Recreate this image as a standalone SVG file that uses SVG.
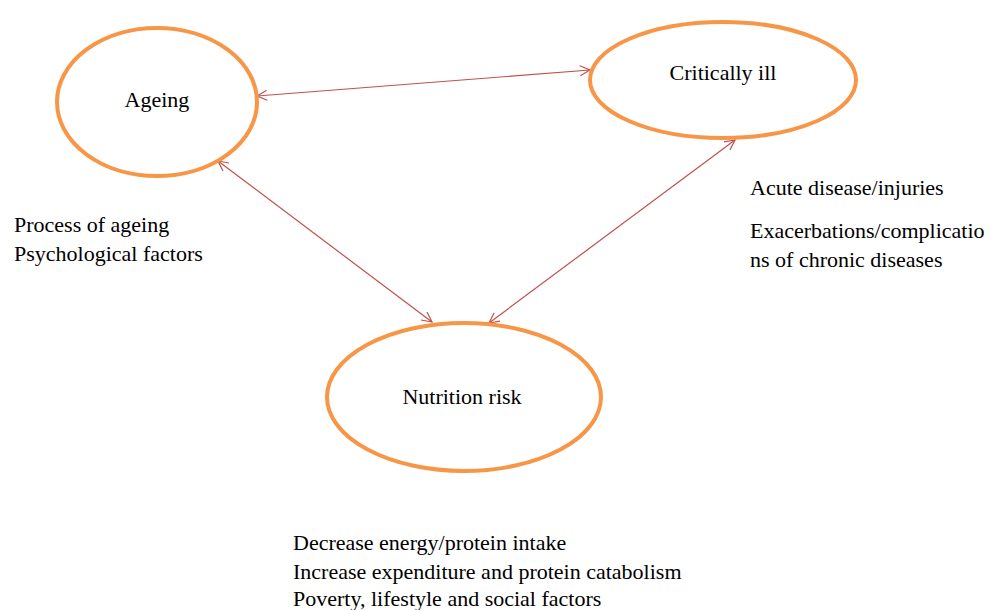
<svg xmlns="http://www.w3.org/2000/svg" width="990" height="610" viewBox="0 0 990 610">
<defs>
<marker id="ah" viewBox="0 0 12 12" refX="11" refY="6" markerWidth="12" markerHeight="12" markerUnits="userSpaceOnUse" orient="auto-start-reverse">
<path d="M1,1 L11,6 L1,11" fill="none" stroke="#c0504d" stroke-width="1.2"/>
</marker>
</defs>
<style>
.node{fill:#fff;stroke:#f79646;stroke-width:4}
.lbl{font-family:"Liberation Serif","Times New Roman",serif;font-size:22px;fill:#000}
.conn{stroke:#c0504d;stroke-width:1.2;fill:none;marker-start:url(#ah);marker-end:url(#ah)}
</style>
<rect width="990" height="610" fill="#fff"/>
<g id="connectors">
<line class="conn" x1="257" y1="96" x2="590" y2="70"/>
<line class="conn" x1="218" y1="161" x2="432" y2="322"/>
<line class="conn" x1="735" y1="140" x2="489" y2="323"/>
</g>
<g id="ageing">
<ellipse class="node" cx="157" cy="102" rx="100" ry="74"/>
<text class="lbl" x="157" y="107" text-anchor="middle">Ageing</text>
</g>
<g id="critically-ill">
<ellipse class="node" cx="723" cy="80" rx="133" ry="58"/>
<text class="lbl" x="723" y="80" text-anchor="middle">Critically ill</text>
</g>
<g id="nutrition-risk">
<ellipse class="node" cx="464" cy="397" rx="137" ry="74"/>
<text class="lbl" x="462" y="404" text-anchor="middle">Nutrition risk</text>
</g>
<g id="ageing-notes">
<text class="lbl" x="14" y="232">Process of ageing</text>
<text class="lbl" x="14" y="261">Psychological factors</text>
</g>
<g id="critical-notes">
<text class="lbl" x="750" y="195">Acute disease/injuries</text>
<text class="lbl" x="750" y="238">Exacerbations/complicatio</text>
<text class="lbl" x="750" y="267">ns of chronic diseases</text>
</g>
<g id="nutrition-notes">
<text class="lbl" x="293" y="550">Decrease energy/protein intake</text>
<text class="lbl" x="293" y="579">Increase expenditure and protein catabolism</text>
<text class="lbl" x="293" y="606">Poverty, lifestyle and social factors</text>
</g>
</svg>
